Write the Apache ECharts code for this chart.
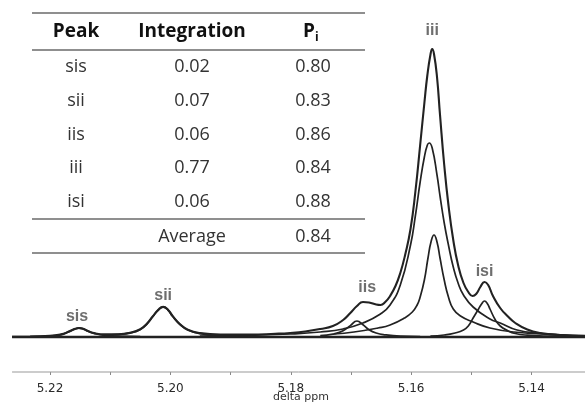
<!DOCTYPE html>
<html>
<head>
<meta charset="utf-8">
<script src="https://cdn.jsdelivr.net/npm/echarts@6/dist/echarts.min.js"></script>
<style>
html,body{margin:0;padding:0;background:#fff;}
#main{width:585px;height:403px;}
</style>
</head>
<body>
<div id="main"></div>
<script>
// spectrum, [delta ppm, intensity]
var envelope = [
    [5.2263,0.3],[5.2200,0.8],[5.2180,2.5],[5.2172,4.5],[5.2165,6.5],[5.2158,8.2],[5.2152,9],
    [5.2145,8.2],[5.2137,6],[5.2125,3.6],[5.2109,2.6],[5.2087,2.8],[5.2067,4.3],[5.2050,7.8],
    [5.2039,13.3],[5.2029,20.8],[5.2020,27.3],[5.2012,30.3],[5.2004,27.3],[5.1996,20.8],
    [5.1984,12.8],[5.1971,7.3],[5.1951,3.9],[5.1917,2.4],[5.1868,2.4],[5.1826,3.2],[5.1801,4],
    [5.1776,5.5],[5.1751,8],[5.1730,11],[5.1713,17],[5.1701,24],[5.1690,31],[5.1680,35],
    [5.1670,34.5],[5.1658,32.5],[5.1651,32],[5.1643,35],[5.1635,41],[5.1626,51],[5.1618,64],
    [5.1610,82],[5.1601,108],[5.1593,145],[5.1585,192],[5.1578,234],[5.1573,262],[5.1568,282],
    [5.1565,288],[5.1562,283],[5.1557,260],[5.1552,222],[5.1545,172],[5.1538,132],[5.1530,97],
    [5.1522,72],[5.1513,54],[5.1505,45],[5.1498,41],[5.1492,43],[5.1485,50],[5.1478,55],
    [5.1472,52],[5.1464,41],[5.1452,29],[5.1440,21],[5.1427,14],[5.1407,7.5],[5.1385,4],
    [5.1352,2],[5.1311,1]
];
var peakSis = [
    [5.2233,0.5],[5.2200,1.3],[5.2180,3],[5.2172,4.5],[5.2165,6.2],[5.2158,8.1],[5.2152,9],
    [5.2145,8.1],[5.2137,5.8],[5.2125,3.3],[5.2109,1.6],[5.2087,0.8],[5.2050,0.3]
];
var peakSii = [
    [5.2109,1.5],[5.2087,2.5],[5.2067,4],[5.2050,7.5],[5.2039,13],[5.2029,20.5],[5.2020,27],
    [5.2012,30],[5.2004,27],[5.1996,20.5],[5.1984,12.5],[5.1971,7],[5.1951,3.5],[5.1917,1.6],
    [5.1868,0.8]
];
var peakIis = [
    [5.1751,1.3],[5.1730,2.8],[5.1713,6.2],[5.1701,11.4],[5.1690,16],[5.1680,12.3],[5.1670,7.3],
    [5.1658,4],[5.1643,2.2],[5.1618,0.9],[5.1585,0.5]
];
var peakIiiA = [
    [5.1951,1],[5.1868,1.8],[5.1801,3],[5.1751,5],[5.1713,8],[5.1680,14],[5.1651,23],[5.1635,32],
    [5.1618,52],[5.1601,92],[5.1593,121],[5.1585,155],[5.1578,180],[5.1573,192],[5.1570,194],
    [5.1565,189],[5.1557,162],[5.1552,141],[5.1545,114],[5.1538,92],[5.1530,70],[5.1522,54],
    [5.1513,42],[5.1497,30],[5.1469,18],[5.1452,14],[5.1424,7],[5.1385,3.5],[5.1352,2],[5.1311,1]
];
var peakIiiB = [
    [5.1728,3],[5.1695,5],[5.1655,9],[5.1635,12],[5.1611,19],[5.1598,25],[5.1590,32],[5.1585,40],
    [5.1578,57],[5.1572,79],[5.1567,95],[5.1562,102],[5.1557,95],[5.1552,79],[5.1545,57],
    [5.1538,40],[5.1530,28],[5.1518,21],[5.1497,15],[5.1469,9],[5.1429,5],[5.1362,2.5],[5.1311,1.5]
];
var peakIsi = [
    [5.1568,1],[5.1545,2],[5.1527,4],[5.1513,7],[5.1505,11],[5.1497,19],[5.1488,28],[5.1483,33],
    [5.1478,36],[5.1473,33],[5.1469,28],[5.1460,17],[5.1452,11],[5.1440,6.5],[5.1427,3.5],
    [5.1407,1.8],[5.1369,0.8],[5.1327,0.4]
];
var baseline = [[5.2263,0],[5.1311,0]];
var axisBase = [[5.2263,-35],[5.1311,-35]];

var peakNames = ['sis','sii','iis','iii','isi'];
var peakLabelPpm = [5.2155,5.2012,5.1673,5.1565,5.1478];
var peakLabelHeight = [20,41,49,306,65];

var tablePeaks = ['sis','sii','iis','iii','isi'];
var tableIntegration = ['0.02','0.07','0.06','0.77','0.06'];
var tablePi = ['0.80','0.83','0.86','0.84','0.88'];
var averagePi = '0.84';

function curve(data, width){
    return {
        type:'line',
        data:data,
        showSymbol:false,
        smooth:0.5,
        silent:true,
        lineStyle:{color:'#222',width:width}
    };
}

function txt(x, y, text, size, weight, color, align){
    return {
        type:'text',
        silent:true,
        style:{
            x:x, y:y, text:text,
            fontSize:size, fontWeight:weight, fontFamily:'Open Sans',
            fill:color,
            align:align || 'center', verticalAlign:'middle',
            textAlign:align || 'center', textVerticalAlign:'middle'
        }
    };
}

function hline(y){
    return {
        type:'line',
        silent:true,
        shape:{x1:32,y1:y,x2:365,y2:y},
        style:{stroke:'#6a6a6a',lineWidth:1.6}
    };
}

function buildTable(){
    var els = [];
    var colX = [76,192,313];
    var rowY = [67,101,135,168,202];
    els.push(hline(13));
    els.push(hline(50));
    els.push(hline(219));
    els.push(hline(253));
    els.push(txt(colX[0],32,'Peak',19,'bold','#111'));
    els.push(txt(colX[1],32,'Integration',19,'bold','#111'));
    els.push(txt(309,32,'P',19,'bold','#111'));
    els.push(txt(315,38,'i',12,'bold','#111','left'));
    for(var i=0;i<tablePeaks.length;i++){
        els.push(txt(colX[0],rowY[i],tablePeaks[i],18,'normal','#333'));
        els.push(txt(colX[1],rowY[i],tableIntegration[i],18,'normal','#333'));
        els.push(txt(colX[2],rowY[i],tablePi[i],18,'normal','#333'));
    }
    els.push(txt(colX[1],237,'Average',18,'normal','#333'));
    els.push(txt(colX[2],237,averagePi,18,'normal','#333'));
    // axis title
    var t = txt(301,397,'delta ppm',11,'normal','#333');
    t.style.fontFamily = 'DejaVu Sans';
    els.push(t);
    return els;
}

var labelData = [];
for(var k=0;k<peakNames.length;k++){
    labelData.push([peakLabelPpm[k],peakLabelHeight[k]]);
}

var myChart = echarts.init(document.getElementById('main'));
var option = {
    animation:false,
    backgroundColor:'#fff',
    grid:{left:-10.2,right:-6.7,top:20,bottom:31,containLabel:false,outerBoundsMode:'none'},
    xAxis:{
        type:'value',
        min:5.13,
        max:5.23,
        interval:0.01,
        inverse:true,
        axisLine:{show:false,onZero:false},
        axisTick:{show:true,length:3,lineStyle:{color:'#888'}},
        splitLine:{show:false},
        axisLabel:{
            margin:11,
            fontSize:12,
            fontFamily:'DejaVu Sans',
            color:'#2a2a2a',
            formatter:function(v){
                return Math.round(v*100)%2===0 ? v.toFixed(2) : '';
            }
        }
    },
    yAxis:{
        type:'value',
        min:-35,
        max:317,
        show:false
    },
    series:[
        {
            type:'line',
            data:axisBase,
            showSymbol:false,
            silent:true,
            clip:false,
            lineStyle:{color:'#999',width:1}
        },
        curve(baseline,2.5),
        curve(peakSis,1.8),
        curve(peakSii,1.8),
        curve(peakIis,1.7),
        curve(peakIiiA,1.7),
        curve(peakIiiB,1.7),
        curve(peakIsi,1.7),
        curve(envelope,2.1),
        {
            type:'scatter',
            data:labelData,
            symbolSize:1,
            itemStyle:{color:'rgba(0,0,0,0)'},
            silent:true,
            label:{
                show:true,
                position:'inside',
                fontSize:16,
                fontWeight:'bold',
                fontFamily:'Liberation Sans',
                color:'#4a4a4a',
                formatter:function(p){
                    return peakNames[p.dataIndex];
                }
            }
        }
    ],
    graphic:buildTable()
};

if (option && typeof option === "object") {
    myChart.setOption(option, true);
}
</script>
</body>
</html>
